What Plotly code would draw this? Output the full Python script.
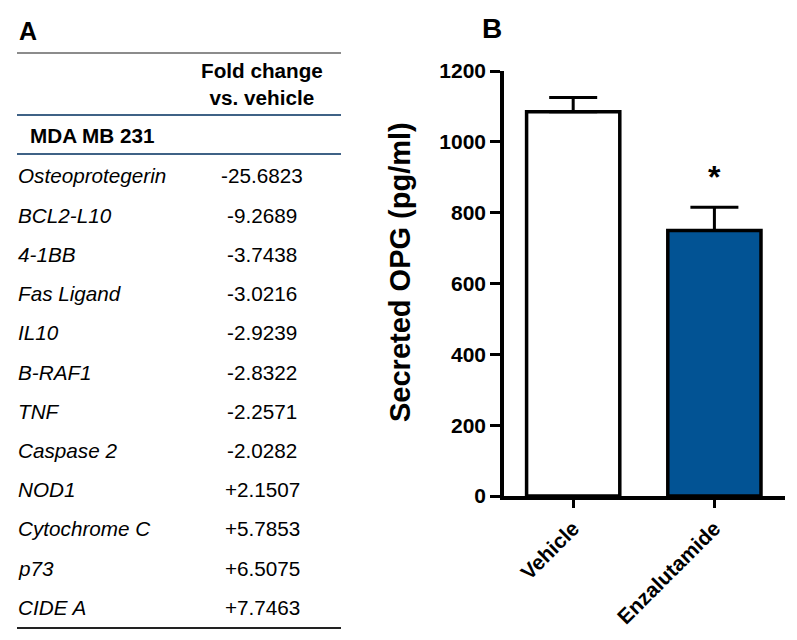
import plotly.graph_objects as go

# panel A: fold change table
genes = ["Osteoprotegerin", "BCL2-L10", "4-1BB", "Fas Ligand", "IL10", "B-RAF1",
         "TNF", "Caspase 2", "NOD1", "Cytochrome C", "p73", "CIDE A"]
fold_change = [-25.6823, -9.2689, -3.7438, -3.0216, -2.9239, -2.8322,
               -2.2571, -2.0282, 2.1507, 5.7853, 6.5075, 7.7463]
cell_line = "MDA MB 231"

# panel B: secreted OPG
groups = ["Vehicle", "Enzalutamide"]
opg_mean = [1085, 750]
opg_sem = [40, 65]

W, H = 797, 640
OFF = 8  # page body margin pushes the figure 8px right/down
FONT = "Liberation Sans, Arial, Helvetica, sans-serif"
FS = 20.7


def px(x):
    return (x - OFF) / W


def py(y):
    return 1 - (y - OFF) / H


fig = go.Figure()

fig.add_trace(go.Bar(
    x=groups, y=opg_mean,
    marker=dict(color=["white", "#025394"], line=dict(color="black", width=3.5)),
    width=0.66,
    error_y=dict(type="data", symmetric=False, array=opg_sem, arrayminus=[0, 0],
                 color="black", thickness=3, width=24),
    showlegend=False,
))

fig.update_layout(
    width=W, height=H,
    margin=dict(l=0, r=0, t=0, b=0, autoexpand=False),
    paper_bgcolor="white", plot_bgcolor="white",
    font=dict(family=FONT, color="black"),
    xaxis=dict(domain=[px(504), px(785)], range=[-0.49, 1.5], automargin=False,
               showline=True, linecolor="black", linewidth=3.5,
               ticks="outside", ticklen=8, tickwidth=3, tickcolor="black",
               tickangle=-45, tickfont=dict(size=21, weight="bold"),
               showgrid=False, zeroline=False),
    yaxis=dict(domain=[py(496), py(71)], range=[0, 1200], automargin=False,
               tickvals=[0, 200, 400, 600, 800, 1000, 1200],
               showline=True, linecolor="black", linewidth=3.5,
               ticks="outside", ticklen=10, tickwidth=3, tickcolor="black",
               tickfont=dict(size=21, weight="bold"),
               showgrid=False, zeroline=False),
)

ann = []
# y axis title
ann.append(dict(text="<b>Secreted OPG (pg/ml)</b>", x=px(400), y=py(272),
                xref="paper", yref="paper", textangle=-90, showarrow=False,
                font=dict(size=29), xanchor="center", yanchor="middle"))
# significance star
ann.append(dict(text="<b>*</b>", x="Enzalutamide", y=900, xref="x", yref="y",
                showarrow=False, font=dict(size=32), yanchor="middle"))
# panel letters
ann.append(dict(text="<b>A</b>", x=px(17), y=py(31), xref="paper", yref="paper",
                showarrow=False, font=dict(size=25), xanchor="left", yanchor="middle"))
ann.append(dict(text="<b>B</b>", x=px(492), y=py(28), xref="paper", yref="paper",
                showarrow=False, font=dict(size=28), xanchor="center", yanchor="middle"))

# table header
ann.append(dict(text="<b>Fold change<br>vs. vehicle</b>", x=px(262), y=py(84),
                xref="paper", yref="paper", showarrow=False, font=dict(size=FS),
                xanchor="center", yanchor="middle", align="center"))
ann.append(dict(text="<b>" + cell_line + "</b>", x=px(28), y=py(135),
                xref="paper", yref="paper", showarrow=False, font=dict(size=FS),
                xanchor="left", yanchor="middle"))

for i, (g, v) in enumerate(zip(genes, fold_change)):
    yy = 176 + 39.2 * i
    ann.append(dict(text="<i>" + g + "</i>", x=px(16), y=py(yy), xref="paper", yref="paper",
                    showarrow=False, font=dict(size=FS), xanchor="left", yanchor="middle"))
    ann.append(dict(text=f"{v:+.4f}", x=px(262), y=py(yy), xref="paper", yref="paper",
                    showarrow=False, font=dict(size=FS), xanchor="center", yanchor="middle"))

fig.update_layout(annotations=ann)

# table rules
rules = [(53, "#8c8c8c"), (115, "#3f6286"), (154, "#3f6286"), (628, "#222222")]
for y, c in rules:
    fig.add_shape(type="line", xref="paper", yref="paper",
                  x0=px(17), x1=px(341), y0=py(y), y1=py(y),
                  line=dict(color=c, width=2))

fig.write_html("out.html")
